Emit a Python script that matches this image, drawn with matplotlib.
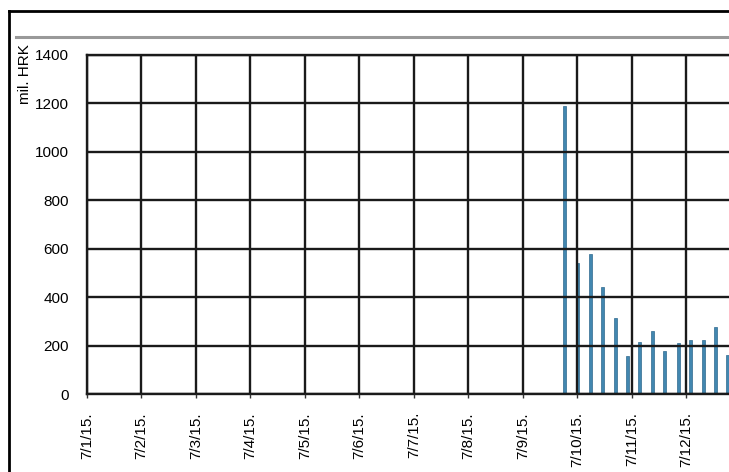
import matplotlib.pyplot as plt
from matplotlib.lines import Line2D

plt.rcParams['font.family'] = ['Liberation Sans', 'DejaVu Sans']

## Data: days since 7/1/15 and values in mil. HRK
day_labels = ['7/1/15.', '7/2/15.', '7/3/15.', '7/4/15.', '7/5/15.', '7/6/15.',
              '7/7/15.', '7/8/15.', '7/9/15.', '7/10/15.', '7/11/15.', '7/12/15.']
bar_days = [8.76, 9.00, 9.23, 9.46, 9.69, 9.91, 10.13, 10.37, 10.60, 10.85,
            11.08, 11.31, 11.54, 11.76]
bar_values = [1190, 541, 577, 441, 313, 157, 213, 261, 178, 209, 223, 223, 275, 160]
y_ticks = [0, 200, 400, 600, 800, 1000, 1200, 1400]

fig = plt.figure(figsize=(7.29, 4.72), dpi=100)
ax = fig.add_axes([87/729, 78/472, 642/729, 339/472])

ax.bar(bar_days, bar_values, width=0.055, color='#4287b0', edgecolor='#2f6a8f',
       linewidth=0.5, zorder=1)

ax.set_xlim(0, 11.78)
ax.set_ylim(0, 1400)
ax.set_xticks(range(len(day_labels)))
ax.set_xticklabels(day_labels, rotation=90, fontsize=11)
ax.set_yticks(y_ticks)
ax.set_yticklabels([str(v) for v in y_ticks], fontsize=11)
ax.tick_params(axis='x', length=3, width=1, pad=10, color='#333333')
ax.tick_params(axis='y', length=0, pad=13)
ax.set_axisbelow(False)
ax.grid(True, color='#1a1a1a', linewidth=1.7, zorder=3)
for s in ['left', 'bottom', 'top']:
    ax.spines[s].set_linewidth(1.7)
    ax.spines[s].set_color('#1a1a1a')
ax.spines['right'].set_visible(False)

fig.text(25/729, 1 - 74/472, 'mil. HRK', rotation=90, fontsize=11,
         ha='center', va='center')

## page frame and separator line
fig.add_artist(Line2D([9/729, 9/729], [0, 1 - 11/472], color='black', linewidth=2))
fig.add_artist(Line2D([9/729, 1], [1 - 11/472, 1 - 11/472], color='black', linewidth=2))
fig.add_artist(Line2D([16/729, 1], [1 - 36.5/472, 1 - 36.5/472], color='#999999', linewidth=2.2))

fig.savefig('out.png', dpi=100)
